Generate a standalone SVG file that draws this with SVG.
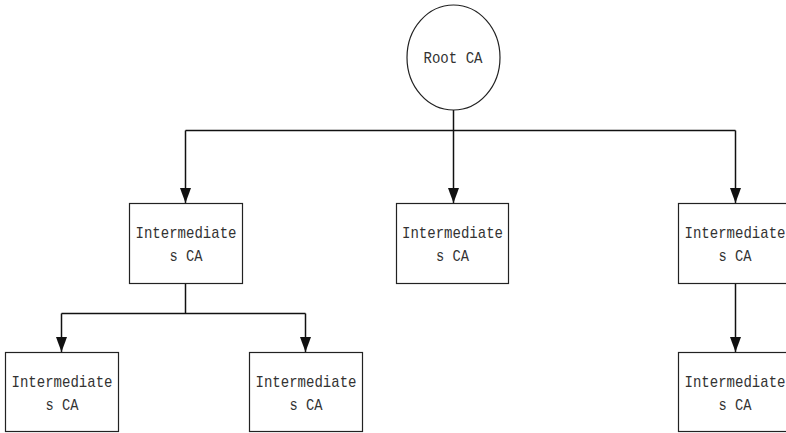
<svg xmlns="http://www.w3.org/2000/svg" width="786" height="433" viewBox="0 0 786 433">
<style>
.box{fill:#fff;stroke:#222;stroke-width:1.2}
.t{font-family:"Liberation Mono","DejaVu Sans Mono",monospace;font-size:17px;fill:#333;text-anchor:middle}
.c{fill:none;stroke:#111;stroke-width:1.5}
</style>
<defs>
<marker id="a" markerWidth="15" markerHeight="11" refX="15" refY="5.5" orient="auto" markerUnits="userSpaceOnUse" viewBox="0 0 15 11">
<path d="M0,0 L15,5.5 L0,11 Z" fill="#111"/>
</marker>
</defs>
<g id="connectors">
<path class="c" d="M453.5,110 V130.5"/>
<path class="c" d="M185.5,130.5 H735.5"/>
<path class="c" d="M185.5,130.5 V203" marker-end="url(#a)"/>
<path class="c" d="M453.5,130.5 V203" marker-end="url(#a)"/>
<path class="c" d="M735.5,130.5 V203" marker-end="url(#a)"/>
<path class="c" d="M185.5,283 V313.5"/>
<path class="c" d="M61.5,313.5 H305.5"/>
<path class="c" d="M61.5,313.5 V352" marker-end="url(#a)"/>
<path class="c" d="M305.5,313.5 V352" marker-end="url(#a)"/>
<path class="c" d="M735.5,283 V352" marker-end="url(#a)"/>
</g>
<g id="root">
<ellipse class="box" cx="453.5" cy="57.5" rx="46.5" ry="52.5"/>
<text class="t" x="453" y="63" textLength="59" lengthAdjust="spacingAndGlyphs">Root CA</text>
</g>
<g id="n1">
<rect class="box" x="129.5" y="203.5" width="113" height="80"/>
<text class="t" x="186" y="238" textLength="101" lengthAdjust="spacingAndGlyphs">Intermediate</text>
<text class="t" x="186" y="261" textLength="33" lengthAdjust="spacingAndGlyphs">s CA</text>
</g>
<g id="n2">
<rect class="box" x="396.5" y="203.5" width="112" height="80"/>
<text class="t" x="452.5" y="238" textLength="101" lengthAdjust="spacingAndGlyphs">Intermediate</text>
<text class="t" x="452.5" y="261" textLength="33" lengthAdjust="spacingAndGlyphs">s CA</text>
</g>
<g id="n3">
<rect class="box" x="678.5" y="203.5" width="113" height="80"/>
<text class="t" x="735" y="238" textLength="101" lengthAdjust="spacingAndGlyphs">Intermediate</text>
<text class="t" x="735" y="261" textLength="33" lengthAdjust="spacingAndGlyphs">s CA</text>
</g>
<g id="n4">
<rect class="box" x="5.5" y="352.5" width="113" height="79"/>
<text class="t" x="62" y="387" textLength="101" lengthAdjust="spacingAndGlyphs">Intermediate</text>
<text class="t" x="62" y="410" textLength="33" lengthAdjust="spacingAndGlyphs">s CA</text>
</g>
<g id="n5">
<rect class="box" x="249.5" y="352.5" width="113" height="79"/>
<text class="t" x="306" y="387" textLength="101" lengthAdjust="spacingAndGlyphs">Intermediate</text>
<text class="t" x="306" y="410" textLength="33" lengthAdjust="spacingAndGlyphs">s CA</text>
</g>
<g id="n6">
<rect class="box" x="678.5" y="352.5" width="113" height="79"/>
<text class="t" x="735" y="387" textLength="101" lengthAdjust="spacingAndGlyphs">Intermediate</text>
<text class="t" x="735" y="410" textLength="33" lengthAdjust="spacingAndGlyphs">s CA</text>
</g>
</svg>
